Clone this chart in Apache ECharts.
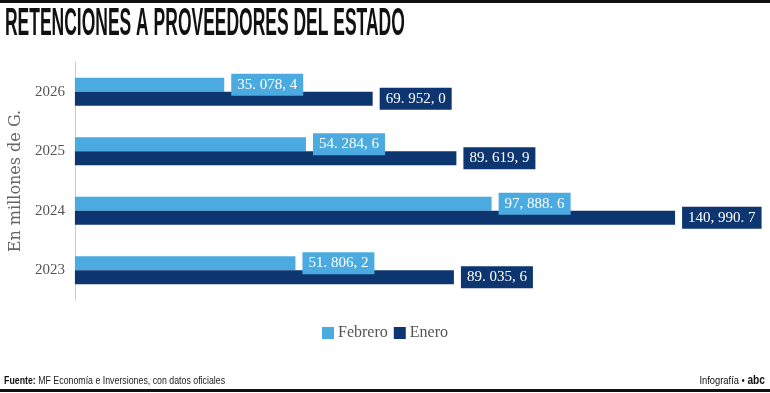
<!DOCTYPE html>
<html><head><meta charset="utf-8">
<script src="https://cdn.jsdelivr.net/npm/echarts@6/dist/echarts.min.js"></script>
<style>html,body{margin:0;padding:0;background:#fff}#c{width:770px;height:393px}</style>
</head><body><div id="c"></div>
<script>
const categories = ['2023', '2024', '2025', '2026'];
const febrero = [51806.2, 97888.6, 54284.6, 35078.4];
const enero = [89035.6, 140990.7, 89619.9, 69952.0];
const febreroLabels = ['51. 806, 2', '97, 888. 6', '54. 284, 6', '35. 078, 4'];
const eneroLabels = ['89. 035, 6', '140, 990. 7', '89. 619, 9', '69. 952, 0'];

const light = '#4babe0';
const dark = '#0d3670';
const serif = '"Liberation Serif", "DejaVu Serif", serif';
const sans = '"Liberation Sans", Arial, sans-serif';

const chart = echarts.init(document.getElementById('c'));
const lbl = (arr, bg) => ({
  show: true, position: 'right', distance: 7,
  formatter: p => arr[p.dataIndex],
  backgroundColor: bg, padding: [4, 6, 3, 6],
  color: '#fff', fontFamily: serif, fontSize: 15
});
chart.setOption({
  animation: false,
  legend: {
    data: ['Febrero', 'Enero'], top: 320, left: 'center',
    icon: 'rect', itemWidth: 12, itemHeight: 12, itemGap: 6,
    textStyle: { fontFamily: serif, fontSize: 16, color: '#555', padding: [0, 0, 0, -1] }
  },
  grid: { left: 74, top: 62, width: 682, height: 238 },
  xAxis: { type: 'value', min: 0, max: 160000, show: false },
  yAxis: {
    type: 'category', data: categories,
    axisLine: { lineStyle: { color: '#ccc', width: 1 } },
    axisTick: { show: false },
    axisLabel: { fontFamily: serif, fontSize: 15, color: '#555', margin: 10 },
    name: 'En millones de G.', nameLocation: 'middle', nameGap: 49, nameRotate: 90,
    nameTextStyle: { fontFamily: '"DejaVu Serif", serif', fontSize: 16, color: '#666' }
  },
  series: [
    { name: 'Febrero', type: 'bar', data: febrero, barWidth: 14, barGap: '0%',
      itemStyle: { color: light }, label: lbl(febreroLabels, light) },
    { name: 'Enero', type: 'bar', data: enero, barWidth: 14, barGap: '0%',
      itemStyle: { color: dark }, label: lbl(eneroLabels, dark) }
  ],
  graphic: [
    { type: 'rect', x: 0, y: 0, shape: { width: 770, height: 3 }, style: { fill: '#111' } },
    { type: 'rect', x: 0, y: 389, shape: { width: 770, height: 3 }, style: { fill: '#111' } },
    { type: 'text', x: 5, y: 6, scaleX: 0.46, style: {
        x: 0, y: 0, text: 'RETENCIONES A PROVEEDORES DEL ESTADO', textAlign: 'left', verticalAlign: 'top',
        fontFamily: sans, fontWeight: 'bold', fontSize: 38, fill: '#111' } },
    { type: 'text', x: 4, y: 375, scaleX: 0.8, style: {
        x: 0, y: 0, text: '{b|Fuente:} MF Economía e Inversiones, con datos oficiales',
        textAlign: 'left', verticalAlign: 'top',
        fontFamily: sans, fontSize: 11, fill: '#222',
        rich: { b: { fontFamily: sans, fontSize: 11, fontWeight: 'bold', fill: '#111' } } } },
    { type: 'text', x: 765, y: 375, scaleX: 0.85, style: {
        x: 0, y: 0, text: 'Infografía • {b|abc}', textAlign: 'right', verticalAlign: 'top',
        fontFamily: sans, fontSize: 11, fill: '#111',
        rich: { b: { fontFamily: sans, fontSize: 12, fontWeight: 'bold', fill: '#111' } } } }
  ]
});
</script></body></html>
